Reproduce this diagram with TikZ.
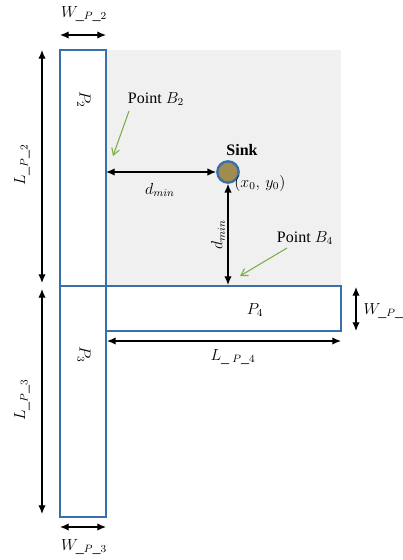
\documentclass[tikz,border=0pt]{standalone}
\usepackage{fontspec}
\setmainfont{Liberation Serif}
\usetikzlibrary{arrows.meta}
\definecolor{padblue}{HTML}{3A70A8}
\definecolor{sinkfill}{HTML}{A08C4F}
\definecolor{zonegray}{HTML}{F0F0F0}
\definecolor{hintgreen}{HTML}{7AAE4A}
\begin{document}
\begin{tikzpicture}[
  x=0.75pt,
  y=-0.75pt,
  font=\large,
  >={Latex[length=6.5pt,width=5.5pt]},
  pad/.style={draw=padblue, line width=0.9pt, fill=white},
  dim/.style={<->, black, line width=0.9pt},
  hint/.style={-{Straight Barb[length=5pt,width=6pt]}, hintgreen, line width=0.8pt}
]
\useasboundingbox (0,0) rectangle (403,560);

% sink zone
\fill[zonegray] (106,50) rectangle (341,286);

% pads
\draw[pad] (60,50) rectangle (106,286);
\draw[pad] (60,286) rectangle (106,517);
\draw[pad] (106,286) rectangle (341,331);
\node[rotate=-90] (p2) at (84,100) {$P_2$};
\node[rotate=-90] (p3) at (84,355) {$P_3$};
\node (p4) at (255,310) {$P_4$};

% sink
\node[circle, draw=padblue, line width=1.8pt, fill=sinkfill, minimum size=16pt, inner sep=0pt] (sink) at (228,172) {};
\node[font=\large\bfseries] (sinklbl) at (242,150) {Sink};
\node[anchor=west, inner sep=0pt] (xy) at (234,183) {$(x_0,\,y_0)$};
\coordinate (b2) at (106,172);
\coordinate (b4) at (228,285);
\draw[dim] (b2) -- (sink.west);
\draw[dim] (sink.south) -- (b4);
\node (dh) at (160,190) {$d_{min}$};
\node[rotate=90] (dv) at (218,235) {$d_{min}$};

% boundary points
\node (pb2) at (156,99) {Point $B_2$};
\node (pb4) at (305,238) {Point $B_4$};
\coordinate (pb2t) at (129,111);
\coordinate (pb4t) at (287,248);
\draw[hint] (pb2t) -- (113,156);
\draw[hint] (pb4t) -- (240,276);

% dimensions
\coordinate (w2a) at (60,35);  \coordinate (w2b) at (106,35);
\coordinate (l2a) at (42,50);  \coordinate (l2b) at (42,283);
\coordinate (l3a) at (42,289); \coordinate (l3b) at (42,514);
\coordinate (w3a) at (60,527); \coordinate (w3b) at (106,527);
\coordinate (l4a) at (107,341); \coordinate (l4b) at (341,341);
\coordinate (w4a) at (356,287); \coordinate (w4b) at (356,331);
\draw[dim] (w2a) -- (w2b);
\draw[dim] (l2a) -- (l2b);
\draw[dim] (l3a) -- (l3b);
\draw[dim] (w3a) -- (w3b);
\draw[dim] (l4a) -- (l4b);
\draw[dim] (w4a) -- (w4b);
\node (w2) at (84,14) {$W_{\_P\_2}$};
\node[rotate=90] (l2) at (22,165) {$L_{\_P\_2}$};
\node[rotate=90] (l3) at (22,400) {$L_{\_P\_3}$};
\node (w3) at (84,547) {$W_{\_P\_3}$};
\node (l4) at (233,357) {$L_{\_\;P\_4}$};
\node[anchor=west, inner sep=1pt] (w4) at (362,311) {$W_{\_P\_4}$};
\end{tikzpicture}
\end{document}
